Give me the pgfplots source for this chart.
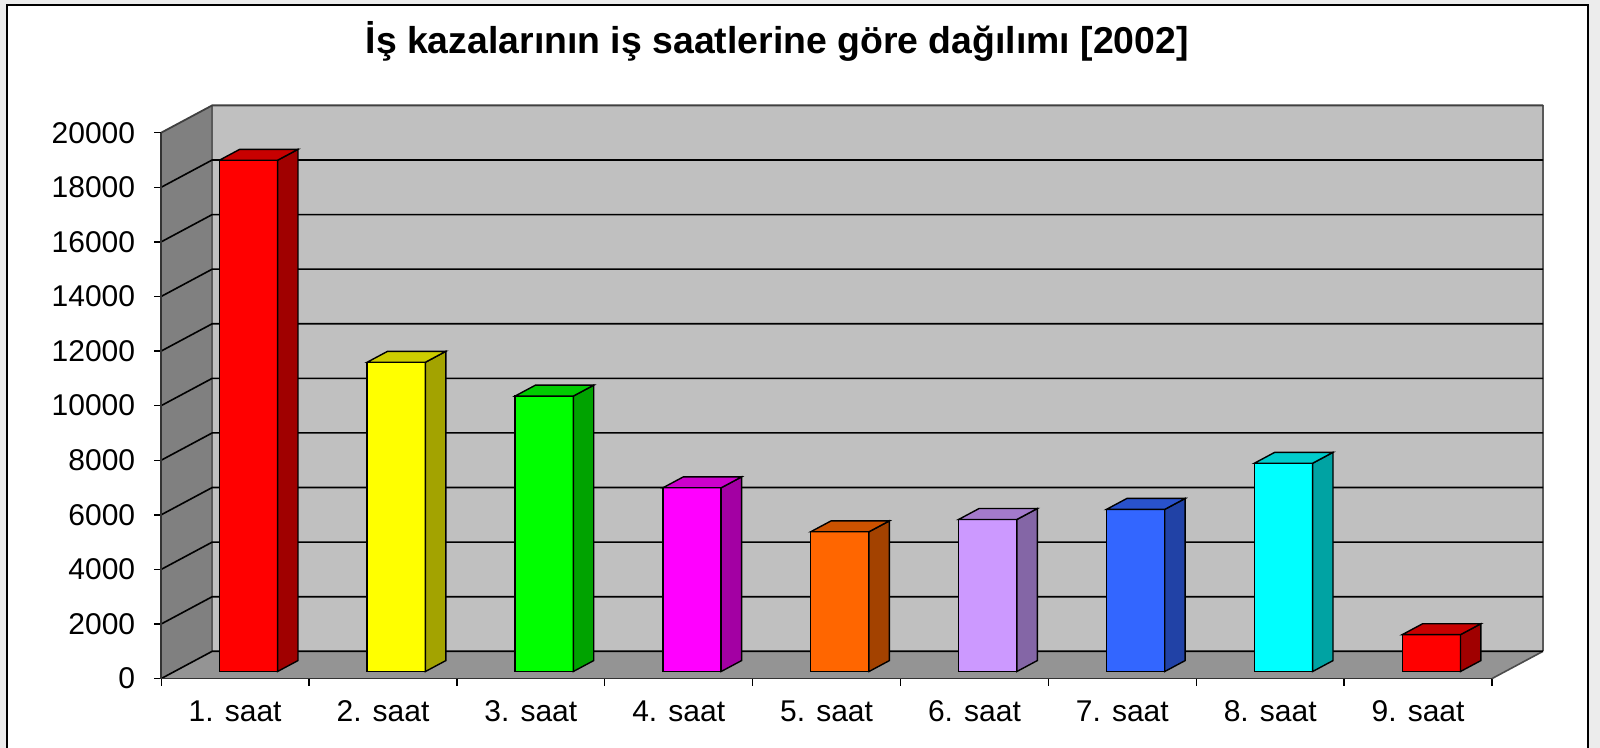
\documentclass[border=0pt]{standalone}
\usepackage{fontspec}
\setmainfont{Liberation Sans}
\usepackage{pgfplots}
\usepackage{pgfplotstable}
\pgfplotsset{compat=1.18}

\definecolor{front1}{HTML}{FF0000}\definecolor{side1}{HTML}{A00000}\definecolor{top1}{HTML}{C80000}
\definecolor{front2}{HTML}{FFFF00}\definecolor{side2}{HTML}{A3A300}\definecolor{top2}{HTML}{CCCC00}
\definecolor{front3}{HTML}{00FF00}\definecolor{side3}{HTML}{00A300}\definecolor{top3}{HTML}{00CC00}
\definecolor{front4}{HTML}{FF00FF}\definecolor{side4}{HTML}{A300A3}\definecolor{top4}{HTML}{CC00CC}
\definecolor{front5}{HTML}{FF6600}\definecolor{side5}{HTML}{A34200}\definecolor{top5}{HTML}{CC5200}
\definecolor{front6}{HTML}{CC99FF}\definecolor{side6}{HTML}{8466A6}\definecolor{top6}{HTML}{A37ACC}
\definecolor{front7}{HTML}{3366FF}\definecolor{side7}{HTML}{2142A6}\definecolor{top7}{HTML}{2952CC}
\definecolor{front8}{HTML}{00FFFF}\definecolor{side8}{HTML}{00A3A3}\definecolor{top8}{HTML}{00CCCC}
\definecolor{front9}{HTML}{FF0000}\definecolor{side9}{HTML}{A00000}\definecolor{top9}{HTML}{C80000}
\definecolor{backwall}{HTML}{C0C0C0}
\definecolor{sidewall}{HTML}{808080}
\definecolor{floorc}{HTML}{949494}

\pgfplotstableread{
hour value
1 18730
2 11330
3 10090
4 6730
5 5120
6 5570
7 5940
8 7630
9 1350
}\datatable

\newcommand\gridline[2]{\draw[black, line width=0.8pt] (axis cs:0,#1) -- (axis cs:0.345,#2) -- (axis cs:9.345,#2);}

\begin{document}
\begin{tikzpicture}
\path[use as bounding box] (0,0) rectangle (800pt,374pt);
\fill[gray!15] (0,0) rectangle (800pt,374pt);
\fill[white] (3.5pt,-2pt) rectangle (794pt,371.5pt);
\draw[black, line width=1pt] (3.5pt,-2pt) -- (3.5pt,371.5pt) -- (794pt,371.5pt) -- (794pt,-2pt);
\node[anchor=base, font=\fontsize{18.7}{22}\selectfont\bfseries, inner sep=0pt] at (388.6pt,347pt) {İş kazalarının iş saatlerine göre dağılımı [2002]};
\begin{axis}[
  at={(80.6pt,34.7pt)}, anchor=south west,
  scale only axis, width=690.9pt, height=286.6pt,
  xmin=0, xmax=9.345, ymin=0, ymax=21000,
  clip=false,
  separate axis lines,
  axis x line*=bottom, axis y line*=left,
  x axis line style={draw=none}, y axis line style={draw=none},
  tick align=outside, major tick length=3.5pt,
  tick style={black, line width=0.7pt},
  ytick={0,2000,4000,6000,8000,10000,12000,14000,16000,18000,20000},
  scaled y ticks=false,
  /pgf/number format/assume math mode=true,
  yticklabel style={/pgf/number format/fixed, /pgf/number format/1000 sep={}, xshift=-6pt},
  tick label style={font=\fontsize{15}{18}\selectfont},
  xtick={0,1,2,3,4,5,6,7,8,9},
  xticklabel=\empty,
  extra x ticks={0.5,1.5,2.5,3.5,4.5,5.5,6.5,7.5,8.5},
  extra x tick labels={1. saat,2. saat,3. saat,4. saat,5. saat,6. saat,7. saat,8. saat,9. saat},
  extra x tick style={major tick length=0pt, xticklabel style={yshift=-7.5pt}},
]
% walls and floor
\fill[backwall] (axis cs:0.345,1000) rectangle (axis cs:9.345,21000);
\fill[sidewall] (axis cs:0,0) -- (axis cs:0.345,1000) -- (axis cs:0.345,21000) -- (axis cs:0,20000) -- cycle;
\fill[floorc] (axis cs:0,0) -- (axis cs:9,0) -- (axis cs:9.345,1000) -- (axis cs:0.345,1000) -- cycle;
\draw[gray!70!black, line width=0.8pt] (axis cs:0.345,1000) -- (axis cs:0.345,21000);
\draw[gray!70!black, line width=0.8pt] (axis cs:9.345,1000) -- (axis cs:9.345,21000);
\draw[gray!60!black, line width=0.8pt] (axis cs:9,0) -- (axis cs:9.345,1000);
\gridline{0}{1000}
\gridline{2000}{3000}
\gridline{4000}{5000}
\gridline{6000}{7000}
\gridline{8000}{9000}
\gridline{10000}{11000}
\gridline{12000}{13000}
\gridline{14000}{15000}
\gridline{16000}{17000}
\gridline{18000}{19000}
\draw[black!75, line width=0.9pt] (axis cs:0,20000) -- (axis cs:0.345,21000) -- (axis cs:9.345,21000);
% bars
\pgfplotsinvokeforeach{0,...,8}{%
  \pgfplotstablegetelem{#1}{value}\of\datatable
  \edef\val{\pgfplotsretval}%
  \pgfmathtruncatemacro\idx{#1+1}%
  \pgfmathsetmacro\xl{#1+0.393}%
  \pgfmathsetmacro\xr{#1+0.787}%
  \pgfmathsetmacro\xlb{#1+0.531}%
  \pgfmathsetmacro\xrb{#1+0.925}%
  \edef\yt{\the\numexpr 260+\val\relax}%
  \edef\ytb{\the\numexpr 660+\val\relax}%
  \edef\cmd{%
    \noexpand\addplot[draw=black, line width=0.7pt, fill=front\idx] coordinates {(\xl,260) (\xr,260) (\xr,\yt) (\xl,\yt)} --cycle;
    \noexpand\addplot[draw=black, line width=0.7pt, fill=side\idx] coordinates {(\xr,260) (\xrb,660) (\xrb,\ytb) (\xr,\yt)} --cycle;
    \noexpand\addplot[draw=black, line width=0.7pt, fill=top\idx] coordinates {(\xl,\yt) (\xr,\yt) (\xrb,\ytb) (\xlb,\ytb)} --cycle;
  }\cmd
}
% front axis lines
\draw[black!80, line width=0.8pt] (axis cs:0,20000) -- (axis cs:0,0) -- (axis cs:9,0);
\end{axis}
\end{tikzpicture}
\end{document}
